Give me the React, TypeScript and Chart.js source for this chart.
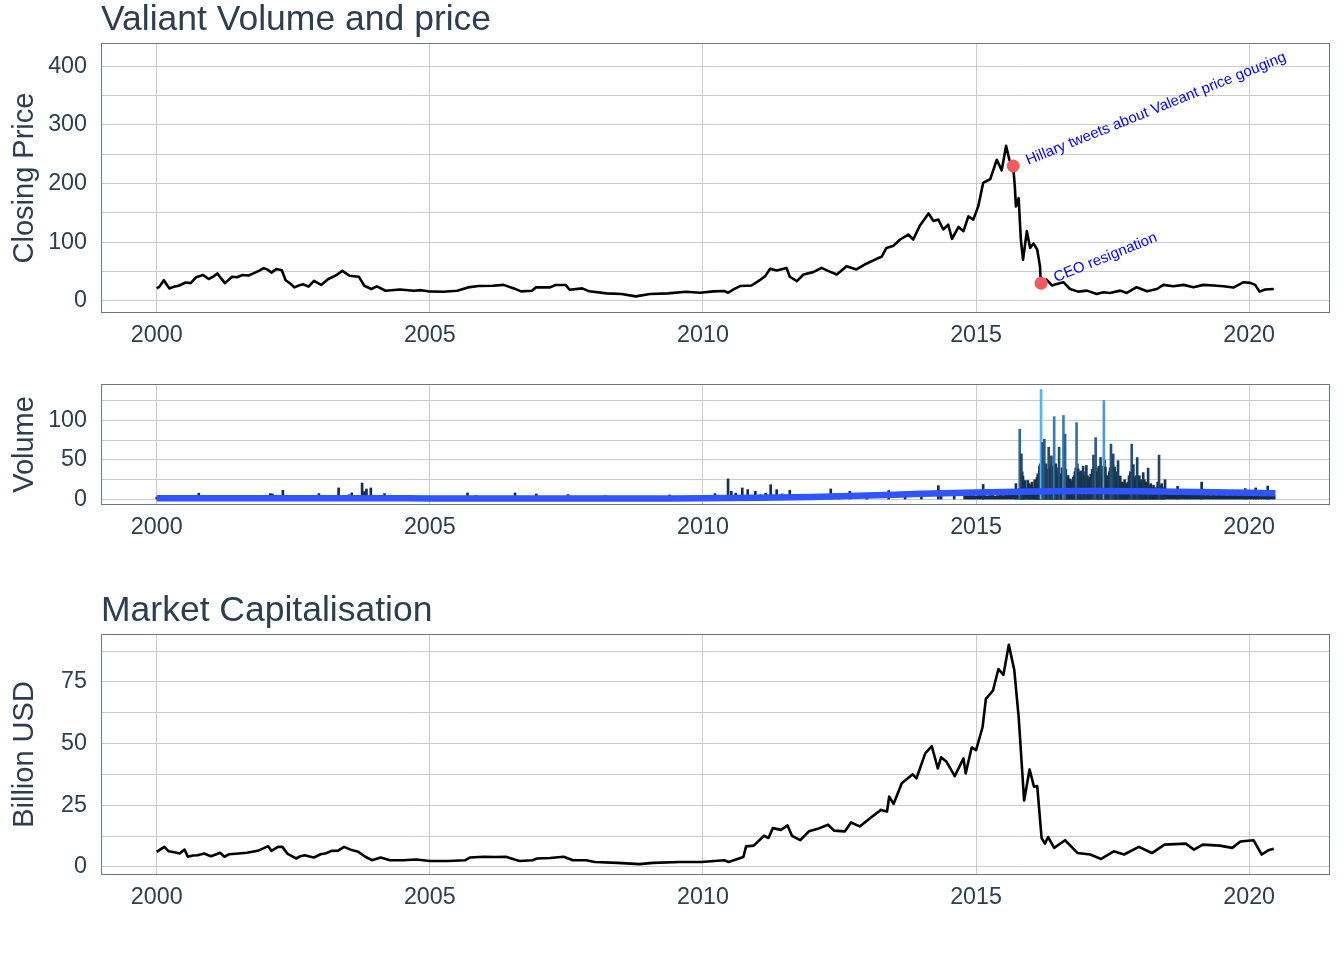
import React, { useEffect, useRef } from "react";
import { Chart, registerables } from "chart.js";

Chart.register(...registerables);

const FONT = '"Liberation Sans", Arial, Helvetica, sans-serif';
const TEXT_COLOR = "#2C3E50";
const GRID_COLOR = "#CCCCCC";
const BORDER_COLOR = "#6A7684";

const X_MIN = 1998.98;
const X_MAX = 2021.48;
const yearTickValues = [2000, 2005, 2010, 2015, 2020];
const yearTickLabels = ["2000", "2005", "2010", "2015", "2020"];

const priceTickValues = [0, 50, 100, 150, 200, 250, 300, 350, 400];
const priceTickLabels = ["0", "", "100", "", "200", "", "300", "", "400"];
const volumeTickValues = [0, 25, 50, 75, 100, 125];
const volumeTickLabels = ["0", "", "50", "", "100", ""];
const capTickValues = [0, 12.5, 25, 37.5, 50, 62.5, 75, 87.5];
const capTickLabels = ["0", "", "25", "", "50", "", "75", ""];

// Closing price (USD)
const priceYears = [
  2000.0, 2000.05, 2000.13, 2000.18, 2000.23, 2000.32, 2000.4, 2000.53, 2000.62, 2000.72,
  2000.85, 2000.95, 2001.05, 2001.11, 2001.18, 2001.25, 2001.38, 2001.47, 2001.57, 2001.68,
  2001.77, 2001.87, 2001.96, 2002.03, 2002.1, 2002.19, 2002.29, 2002.36, 2002.45, 2002.52,
  2002.6, 2002.68, 2002.78, 2002.88, 2003.01, 2003.14, 2003.27, 2003.4, 2003.53, 2003.7,
  2003.8, 2003.93, 2004.03, 2004.19, 2004.45, 2004.71, 2004.84, 2004.97, 2005.24, 2005.5,
  2005.7, 2005.89, 2006.15, 2006.35, 2006.54, 2006.67, 2006.87, 2006.94, 2007.2, 2007.3,
  2007.49, 2007.56, 2007.79, 2007.92, 2008.24, 2008.51, 2008.77, 2009.03, 2009.36, 2009.69,
  2009.95, 2010.19, 2010.39, 2010.46, 2010.56, 2010.68, 2010.89, 2011.04, 2011.14, 2011.23,
  2011.35, 2011.53, 2011.59, 2011.72, 2011.84, 2012.02, 2012.17, 2012.3, 2012.45, 2012.63,
  2012.81, 2013.0, 2013.18, 2013.27, 2013.36, 2013.49, 2013.61, 2013.76, 2013.85, 2013.97,
  2014.13, 2014.22, 2014.31, 2014.4, 2014.49, 2014.56, 2014.68, 2014.77, 2014.86, 2014.95,
  2015.04, 2015.13, 2015.26, 2015.38, 2015.47, 2015.55, 2015.61, 2015.68, 2015.71, 2015.73,
  2015.78, 2015.82, 2015.86, 2015.93, 2015.99, 2016.05, 2016.12, 2016.17, 2016.185, 2016.2,
  2016.29, 2016.39, 2016.48, 2016.6, 2016.72, 2016.87, 2017.03, 2017.21, 2017.33, 2017.45,
  2017.64, 2017.76, 2017.94, 2018.13, 2018.31, 2018.43, 2018.61, 2018.8, 2018.98, 2019.16,
  2019.35, 2019.53, 2019.71, 2019.9, 2020.02, 2020.11, 2020.19, 2020.29, 2020.45,
];
const priceValues = [
  21, 24, 35, 28, 21, 24, 25.6, 31, 30, 40,
  44, 37, 42, 46.6, 38, 30, 41, 40, 44, 43,
  46.6, 51, 55.7, 53, 48, 54, 52, 35, 29, 22.7,
  26, 28, 24, 34, 27, 37, 42.6, 51, 42.6, 41,
  25.6, 20, 24.4, 17, 19, 17, 18, 16, 15.3, 17,
  22.7, 25, 25.6, 27, 21, 16, 17, 22.7, 22.7, 26.7,
  26.7, 18.75, 21, 16, 12.5, 11.4, 7.4, 11.4, 12.5, 15.3,
  13.6, 15.9, 16.5, 13.6, 19.3, 25, 26, 35, 42, 54.5,
  51.6, 56, 40.9, 33.5, 44.8, 48.8, 56, 50.5, 44.8, 59,
  53.4, 63.6, 71.5, 75, 90, 94, 104.5, 113, 104.5, 128,
  149, 136, 138.5, 121.6, 130, 105.6, 126, 118.7, 144, 138.5,
  161, 201, 207.7, 240.6, 222.5, 264.5, 240.6, 229, 195, 161,
  175, 104.5, 70, 118.7, 90, 97.6, 87.4, 59, 31, 30,
  36, 26, 28.7, 31.6, 20, 15.5, 17.2, 11.5, 14.4, 13.2,
  17.2, 13.2, 23, 16, 20, 27, 24.7, 27, 23, 27,
  25.9, 24.7, 22.4, 31.6, 30.5, 27, 15.5, 19, 20,
];

const eventYears = [2015.68, 2016.19];
const eventPrices = [230, 30];
const eventLabels = ["Hillary tweets about Valeant price gouging", "CEO resignation"];

// Daily volume spikes (millions)
const volumeYears = [
  2000.0, 2000.19, 2000.5, 2000.77, 2001.2, 2001.6, 2002.08, 2002.12, 2002.31, 2002.6,
  2002.97, 2003.33, 2003.52, 2003.57, 2003.76, 2003.8, 2003.84, 2003.92, 2004.17, 2004.6,
  2005.2, 2005.69, 2005.85, 2006.2, 2006.56, 2006.95, 2007.53, 2007.9, 2008.21, 2008.8,
  2009.39, 2009.8, 2010.22, 2010.46, 2010.52, 2010.6, 2010.72, 2010.82, 2010.96, 2011.05,
  2011.15, 2011.24, 2011.35, 2011.45, 2011.59, 2011.7, 2011.82, 2012.0, 2012.34, 2012.5,
  2012.69, 2013.0, 2013.4, 2013.7, 2014.0, 2014.31, 2014.36, 2014.6, 2015.13, 2015.73,
  2015.8, 2015.83, 2015.86, 2015.9, 2015.95, 2016.0, 2016.05, 2016.1, 2016.13, 2016.16,
  2016.19, 2016.22, 2016.25, 2016.28, 2016.33, 2016.36, 2016.38, 2016.41, 2016.43, 2016.46,
  2016.49, 2016.52, 2016.56, 2016.6, 2016.63, 2016.67, 2016.7, 2016.74, 2016.78, 2016.81,
  2016.84, 2016.87, 2016.9, 2016.93, 2016.96, 2016.99, 2017.02, 2017.06, 2017.1, 2017.15,
  2017.19, 2017.22, 2017.25, 2017.28, 2017.31, 2017.34, 2017.37, 2017.4, 2017.44, 2017.47,
  2017.51, 2017.54, 2017.57, 2017.6, 2017.64, 2017.68, 2017.72, 2017.75, 2017.8, 2017.85,
  2017.88, 2017.92, 2017.95, 2017.99, 2018.03, 2018.06, 2018.1, 2018.15, 2018.2, 2018.25,
  2018.3, 2018.35, 2018.4, 2018.46, 2018.69, 2019.13, 2019.93, 2020.12, 2020.34,
];
const volumeValues = [
  3, 4, 2, 8, 2, 3, 7.5, 7, 11.7, 3,
  7.5, 14.6, 6, 8.3, 20.8, 10, 13.3, 14.6, 7.5, 3,
  2, 8.3, 5, 3, 8.3, 7, 6.25, 3, 5, 3,
  5.8, 3, 7.5, 26, 10.4, 8, 14.6, 12.5, 10.4, 6,
  8, 18.75, 12.5, 7, 11.7, 6, 6, 4, 13.3, 4,
  10.4, 5, 11.25, 5, 6, 17.5, 10.4, 6, 19, 20,
  88.75, 57.5, 29.6, 24, 24, 18, 15, 20, 32.5, 42,
  138.75, 72, 76, 45, 66, 40, 55, 35, 104.6, 45,
  30, 66, 32.5, 106, 82.5, 30, 25, 22, 28, 35,
  97, 38.75, 34.6, 28, 42, 30, 43, 26, 32, 56,
  78, 35, 42, 53, 30, 125, 41, 30, 35, 70,
  57.5, 41, 28, 49, 29.6, 22, 25, 20, 30, 70,
  44, 28, 53, 30, 25, 34, 22, 39.6, 20, 18,
  15, 56, 20, 25, 16.7, 22, 13.75, 14.6, 17,
];

// Mid-level daily volumes filling the busy 2015-2018 period
const volumeMidYears = [
  2015.815, 2015.845, 2015.875, 2015.975, 2016.025, 2016.075, 2016.115, 2016.145, 2016.175, 2016.205,
  2016.235, 2016.265, 2016.295, 2016.315, 2016.345, 2016.395, 2016.445, 2016.475, 2016.505, 2016.535,
  2016.575, 2016.615, 2016.645, 2016.685, 2016.725, 2016.765, 2016.795, 2016.825, 2016.855, 2016.885,
  2016.915, 2016.945, 2016.975, 2017.005, 2017.04, 2017.08, 2017.125, 2017.17, 2017.205, 2017.235,
  2017.265, 2017.295, 2017.325, 2017.355, 2017.385, 2017.42, 2017.455, 2017.49, 2017.525, 2017.555,
  2017.585, 2017.62, 2017.66, 2017.7, 2017.735, 2017.78, 2017.825, 2017.865, 2017.9, 2017.935,
  2017.97, 2018.01, 2018.045, 2018.08, 2018.125, 2018.175, 2018.225, 2018.275, 2018.325, 2018.375,
  2018.43,
];
const volumeMidValues = [
  30, 35, 22, 20, 22, 25, 28, 30, 45, 50,
  40, 35, 38, 30, 44, 42, 38, 40, 35, 28,
  40, 45, 38, 30, 26, 24, 30, 40, 45, 30,
  36, 30, 28, 35, 30, 28, 38, 45, 40, 30,
  35, 38, 42, 50, 30, 28, 40, 35, 30, 25,
  35, 28, 22, 20, 18, 22, 35, 40, 25, 30,
  26, 22, 20, 25, 22, 18, 15, 14, 22, 18,
  15,
];

// Background (typical daily) volume level, 2014.8 onwards
const volumeBaseYears = [
  2014.8, 2014.85, 2014.9, 2014.95, 2015.0, 2015.05, 2015.1, 2015.15, 2015.2, 2015.25,
  2015.3, 2015.35, 2015.4, 2015.45, 2015.5, 2015.55, 2015.6, 2015.65, 2015.7, 2015.75,
  2015.8, 2015.85, 2015.9, 2015.95, 2016.0, 2016.05, 2016.1, 2016.15, 2016.2, 2016.25,
  2016.3, 2016.35, 2016.4, 2016.45, 2016.5, 2016.55, 2016.6, 2016.65, 2016.7, 2016.75,
  2016.8, 2016.85, 2016.9, 2016.95, 2017.0, 2017.05, 2017.1, 2017.15, 2017.2, 2017.25,
  2017.3, 2017.35, 2017.4, 2017.45, 2017.5, 2017.55, 2017.6, 2017.65, 2017.7, 2017.75,
  2017.8, 2017.85, 2017.9, 2017.95, 2018.0, 2018.05, 2018.1, 2018.15, 2018.2, 2018.25,
  2018.3, 2018.35, 2018.4, 2018.45, 2018.5, 2018.55, 2018.6, 2018.65, 2018.7, 2018.75,
  2018.8, 2018.85, 2018.9, 2018.95, 2019.0, 2019.05, 2019.1, 2019.15, 2019.2, 2019.25,
  2019.3, 2019.35, 2019.4, 2019.45, 2019.5, 2019.55, 2019.6, 2019.65, 2019.7, 2019.75,
  2019.8, 2019.85, 2019.9, 2019.95, 2020.0, 2020.05, 2020.1, 2020.15, 2020.2, 2020.25,
  2020.3, 2020.35, 2020.4, 2020.45,
];
const volumeBaseValues = [
  5, 4, 6, 5, 4, 6, 5, 7, 4, 5,
  6, 4, 5, 6, 5, 7, 6, 8, 7, 10,
  14, 16, 12, 14, 12, 11, 15, 18, 25, 22,
  20, 24, 18, 22, 20, 18, 20, 16, 14, 15,
  17, 20, 18, 16, 20, 15, 18, 22, 24, 18,
  20, 22, 16, 18, 20, 15, 16, 14, 12, 13,
  15, 18, 14, 16, 14, 12, 13, 15, 11, 10,
  12, 13, 10, 9, 8, 7, 8, 7, 8, 6,
  7, 6, 7, 6, 7, 6, 7, 6, 5, 6,
  5, 6, 5, 6, 5, 6, 5, 6, 5, 6,
  5, 6, 5, 6, 5, 6, 7, 8, 7, 6,
  5, 6, 5, 5,
];

// Smoothed volume trend
const trendYears = [
  2000, 2001, 2002, 2003, 2004, 2005, 2006, 2007, 2008, 2009, 2010,
  2011, 2012, 2013, 2014, 2015, 2016, 2017, 2018, 2019, 2020, 2020.48,
];
const trendValues = [
  1.5, 1.5, 1.6, 1.6, 1.6, 1.4, 1.3, 1.3, 1.3, 1.4, 1.6,
  2.2, 3.2, 5.0, 7.2, 9.0, 10.2, 10.6, 10.3, 9.5, 8.4, 7.8,
];

// Market capitalisation (billion USD)
const capYears = [
  2000.0, 2000.06, 2000.14, 2000.22, 2000.3, 2000.42, 2000.51, 2000.57, 2000.66, 2000.75,
  2000.87, 2000.99, 2001.08, 2001.16, 2001.24, 2001.32, 2001.45, 2001.65, 2001.85, 2002.04,
  2002.1, 2002.22, 2002.3, 2002.39, 2002.55, 2002.63, 2002.71, 2002.8, 2002.88, 2003.0,
  2003.1, 2003.2, 2003.32, 2003.43, 2003.57, 2003.69, 2003.82, 2003.94, 2004.1, 2004.27,
  2004.51, 2004.75, 2005.0, 2005.33, 2005.65, 2005.74, 2005.98, 2006.2, 2006.39, 2006.64,
  2006.88, 2006.96, 2007.2, 2007.45, 2007.62, 2007.86, 2008.02, 2008.43, 2008.84, 2009.08,
  2009.58, 2009.97, 2010.39, 2010.47, 2010.74, 2010.79, 2010.93, 2011.12, 2011.2, 2011.28,
  2011.43, 2011.55, 2011.63, 2011.78, 2011.94, 2012.09, 2012.29, 2012.4, 2012.6, 2012.71,
  2012.87, 2013.1, 2013.26, 2013.37, 2013.41, 2013.49, 2013.64, 2013.84, 2013.91, 2014.07,
  2014.19, 2014.3, 2014.36, 2014.46, 2014.61, 2014.77, 2014.81, 2014.92, 2015.0, 2015.12,
  2015.18, 2015.31, 2015.41, 2015.5, 2015.6, 2015.7, 2015.78, 2015.88, 2015.98, 2016.06,
  2016.12, 2016.2, 2016.26, 2016.32, 2016.43, 2016.63, 2016.86, 2017.09, 2017.29, 2017.52,
  2017.71, 2017.98, 2018.22, 2018.45, 2018.84, 2018.99, 2019.15, 2019.46, 2019.69, 2019.84,
  2020.08, 2020.23, 2020.35, 2020.45,
];
const capValues = [
  6.1, 7.0, 8.1, 6.3, 6.0, 5.4, 7.0, 4.1, 4.6, 4.7,
  5.4, 4.3, 5.0, 5.7, 4.1, 5.1, 5.3, 5.7, 6.5, 8.4,
  6.5, 8.1, 8.1, 5.4, 3.4, 4.3, 4.7, 4.2, 3.8, 5.1,
  5.5, 6.5, 6.6, 8.1, 6.8, 6.1, 4.1, 2.7, 3.8, 2.7,
  2.7, 3.0, 2.4, 2.4, 2.7, 3.8, 4.1, 4.0, 4.1, 2.4,
  2.7, 3.4, 3.6, 4.1, 2.7, 2.7, 2.0, 1.6, 1.1, 1.6,
  2.0, 2.0, 2.7, 2.0, 4.0, 8.3, 8.6, 12.6, 11.7, 15.7,
  15.0, 16.8, 12.6, 10.8, 14.4, 15.3, 17.1, 14.7, 14.4, 18.0,
  16.4, 20.4, 23.1, 22.4, 28.5, 25.5, 33.9, 37.5, 35.9, 46.0,
  48.9, 39.9, 44.4, 42.6, 36.8, 44.0, 37.9, 48.4, 47.3, 56.7,
  68.1, 71.5, 80.2, 77.8, 90.0, 79.8, 60.8, 26.9, 39.5, 32.5,
  32.8, 11.7, 9.4, 12.1, 7.7, 10.8, 5.6, 5.0, 3.2, 6.3,
  5.0, 8.1, 5.6, 9.0, 9.4, 7.0, 9.0, 8.6, 7.7, 10.3,
  10.8, 5.0, 6.7, 7.3,
];

const VOL_LOW = [0x13, 0x2b, 0x43];
const VOL_HIGH = [0x56, 0xb1, 0xf7];
const VOL_MAX = Math.max(...volumeValues);

function volumeColor(v: number) {
  const t = Math.pow(Math.max(0, Math.min(1, v / VOL_MAX)), 1.8);
  const c = VOL_LOW.map((lo, i) => Math.round(lo + (VOL_HIGH[i] - lo) * t));
  return `rgb(${c[0]},${c[1]},${c[2]})`;
}

function pairs(xs: number[], ys: number[]) {
  return xs.map((x, i) => ({ x, y: ys[i] }));
}

function xScale(axisHeight: number) {
  return {
    type: "linear",
    min: X_MIN,
    max: X_MAX,
    offset: false,
    afterBuildTicks: (s: any) => {
      s.ticks = yearTickValues.map((v) => ({ value: v }));
    },
    afterFit: (s: any) => {
      s.height = axisHeight;
    },
    ticks: {
      autoSkip: false,
      maxRotation: 0,
      minRotation: 0,
      padding: 9,
      color: TEXT_COLOR,
      font: { family: FONT, size: 23.3 },
      callback: (_v: any, i: number) => yearTickLabels[i],
    },
    grid: { color: GRID_COLOR, lineWidth: 1, drawTicks: false, offset: false },
    border: { display: false },
  };
}

function yScale(min: number, max: number, values: number[], labels: string[], title: string) {
  return {
    type: "linear",
    min,
    max,
    afterBuildTicks: (s: any) => {
      s.ticks = values.map((v) => ({ value: v }));
    },
    afterFit: (s: any) => {
      s.width = 101;
    },
    ticks: {
      autoSkip: false,
      padding: 14,
      color: TEXT_COLOR,
      font: { family: FONT, size: 23.3 },
      callback: (_v: any, i: number) => labels[i],
    },
    grid: { color: GRID_COLOR, lineWidth: 1, drawTicks: false },
    border: { display: false },
    title: {
      display: true,
      text: title,
      color: TEXT_COLOR,
      font: { family: FONT, size: 29 },
      padding: { top: 8, bottom: 0 },
    },
  };
}

function framePlugin(title: string | null, baseline: number) {
  return {
    id: "frame",
    afterDatasetsDraw(chart: any) {
      const { ctx, chartArea: a } = chart;
      ctx.save();
      ctx.strokeStyle = BORDER_COLOR;
      ctx.lineWidth = 1;
      ctx.strokeRect(a.left + 0.5, a.top + 0.5, a.right - a.left - 1, a.bottom - a.top - 1);
      ctx.restore();
    },
    afterDraw(chart: any) {
      if (!title) return;
      const { ctx, chartArea: a } = chart;
      ctx.save();
      ctx.fillStyle = TEXT_COLOR;
      ctx.font = `35.5px ${FONT}`;
      ctx.textAlign = "left";
      ctx.textBaseline = "alphabetic";
      ctx.fillText(title, a.left, baseline);
      ctx.restore();
    },
  };
}

const eventLabelPlugin = {
  id: "eventLabels",
  afterDatasetsDraw(chart: any) {
    const { ctx } = chart;
    const xs = chart.scales.x;
    const ys = chart.scales.y;
    ctx.save();
    ctx.fillStyle = "#0000FF";
    ctx.font = `15px ${FONT}`;
    ctx.textAlign = "left";
    ctx.textBaseline = "alphabetic";
    eventYears.forEach((yr, i) => {
      const px = xs.getPixelForValue(yr);
      const py = ys.getPixelForValue(eventPrices[i]);
      ctx.save();
      ctx.translate(px + 15, py - 1);
      ctx.rotate((-22 * Math.PI) / 180);
      ctx.fillText(eventLabels[i], 0, 0);
      ctx.restore();
    });
    ctx.restore();
  },
};

function barSet(xs: number[], ys: number[], thickness: number, order: number) {
  return {
    type: "bar",
    data: pairs(xs, ys),
    backgroundColor: (c: any) => volumeColor(c.raw ? c.raw.y : 0),
    barThickness: thickness,
    grouped: false,
    borderWidth: 0,
    order,
  } as any;
}

export default function App() {
  const refA = useRef<HTMLCanvasElement>(null);
  const refB = useRef<HTMLCanvasElement>(null);
  const refC = useRef<HTMLCanvasElement>(null);

  useEffect(() => {
    Chart.defaults.font.family = FONT;
    const charts: Chart[] = [];

    charts.push(
      new Chart(refA.current as HTMLCanvasElement, {
        type: "line",
        data: {
          datasets: [
            {
              data: pairs(eventYears, eventPrices),
              showLine: false,
              pointRadius: 6.5,
              pointBackgroundColor: "#F25C5C",
              pointBorderWidth: 0,
              order: 0,
            } as any,
            {
              data: pairs(priceYears, priceValues),
              borderColor: "#000000",
              borderWidth: 2.6,
              pointRadius: 0,
              tension: 0,
              borderJoinStyle: "round",
              order: 1,
            } as any,
          ],
        },
        options: {
          responsive: false,
          animation: false,
          layout: { padding: { left: 0, right: 14, top: 43, bottom: 0 } },
          plugins: { legend: { display: false }, tooltip: { enabled: false }, title: { display: false } },
          scales: {
            x: xScale(52) as any,
            y: yScale(-21, 440, priceTickValues, priceTickLabels, "Closing Price") as any,
          },
        },
        plugins: [framePlugin("Valiant Volume and price", 30), eventLabelPlugin],
      })
    );

    charts.push(
      new Chart(refB.current as HTMLCanvasElement, {
        type: "bar",
        data: {
          datasets: [
            {
              type: "line",
              data: pairs(trendYears, trendValues),
              borderColor: "#2F55FF",
              borderWidth: 6.5,
              pointRadius: 0,
              cubicInterpolationMode: "monotone",
              order: 0,
            } as any,
            barSet(volumeYears, volumeValues, 2, 1),
            barSet(volumeMidYears, volumeMidValues, 2, 2),
            barSet(volumeBaseYears, volumeBaseValues, 3, 3),
          ],
        },
        options: {
          responsive: false,
          animation: false,
          layout: { padding: { left: 0, right: 14, top: 49, bottom: 0 } },
          plugins: { legend: { display: false }, tooltip: { enabled: false }, title: { display: false } },
          scales: {
            x: xScale(40) as any,
            y: yScale(-6.9, 145.7, volumeTickValues, volumeTickLabels, "Volume") as any,
          },
        },
        plugins: [framePlugin(null, 0)],
      })
    );

    charts.push(
      new Chart(refC.current as HTMLCanvasElement, {
        type: "line",
        data: {
          datasets: [
            {
              data: pairs(capYears, capValues),
              borderColor: "#000000",
              borderWidth: 2.6,
              pointRadius: 0,
              tension: 0,
              borderJoinStyle: "round",
            } as any,
          ],
        },
        options: {
          responsive: false,
          animation: false,
          layout: { padding: { left: 0, right: 14, top: 89, bottom: 0 } },
          plugins: { legend: { display: false }, tooltip: { enabled: false }, title: { display: false } },
          scales: {
            x: xScale(85) as any,
            y: yScale(-3.3, 94.4, capTickValues, capTickLabels, "Billion USD") as any,
          },
        },
        plugins: [framePlugin("Market Capitalisation", 76)],
      })
    );

    return () => charts.forEach((c) => c.destroy());
  }, []);

  return (
    <div
      style={{
        position: "absolute",
        left: 0,
        top: 0,
        width: 1344,
        height: 960,
        background: "#ffffff",
        overflow: "hidden",
      }}
    >
      <canvas ref={refA} width={1344} height={365} style={{ position: "absolute", left: 0, top: 0 }} />
      <canvas ref={refB} width={1344} height={210} style={{ position: "absolute", left: 0, top: 335 }} />
      <canvas ref={refC} width={1344} height={415} style={{ position: "absolute", left: 0, top: 545 }} />
    </div>
  );
}
